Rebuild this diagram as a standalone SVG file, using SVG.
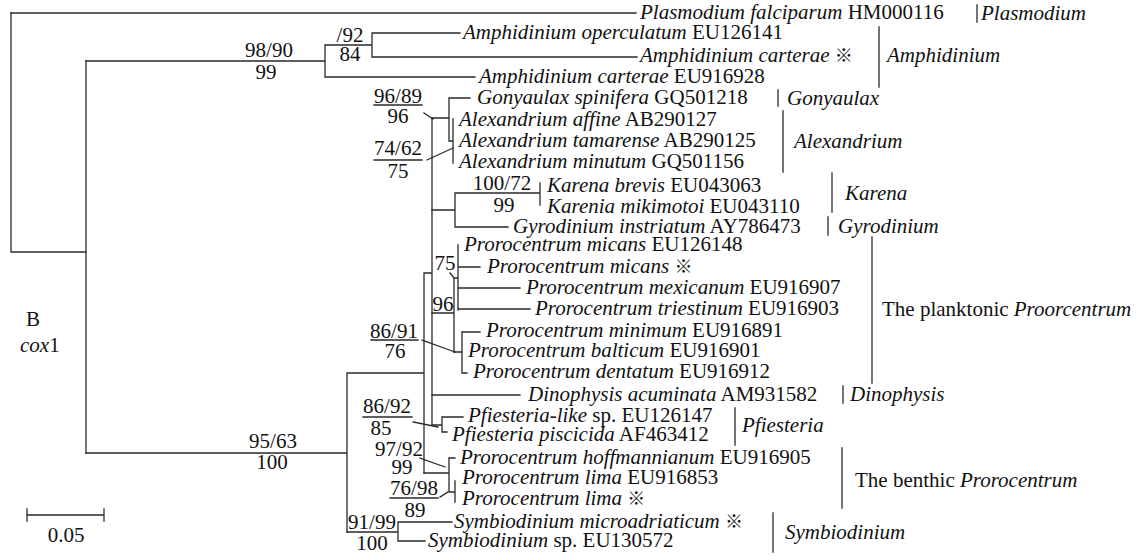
<svg xmlns="http://www.w3.org/2000/svg" width="1139" height="556" viewBox="0 0 1139 556">
<style>
.br{stroke:#2a2a2a;stroke-width:1.3;fill:none;stroke-linecap:square}
.t{font-family:"Liberation Serif","Times New Roman",serif;font-size:21px;fill:#111}
.i{font-style:italic}
.c{text-anchor:middle}
.k{font-family:"Noto Sans CJK SC",sans-serif;font-style:normal;font-size:18px}
</style>
<rect width="1139" height="556" fill="#fff"/>
<g id="connectors" class="br">
<path d="M11 13V252H86"/>
<path d="M11 13H636"/>
<path d="M86 61V453"/>
<path d="M86 61H325M325 45V77M325 45H372M372 33V57M372 33H460M372 57H637M325 77H475"/>
<path d="M86 453H347M347 373V532M347 373H424M424 273V473M424 273H432M432 118V425"/>
<path d="M432 118H449M449 98V141M449 98H470M449 141H453M453 119V163"/>
<path d="M432 210H455M455 193V227M455 193H540M540 183V205M455 227H508"/>
<path d="M432 313H454M454 278V352M454 278H458M458 245V310M458 267H480M458 288H520M458 309H530"/>
<path d="M454 352H462M462 332V373M462 332H480M462 373H467"/>
<path d="M432 395H520"/>
<path d="M432 425H442M442 417V432M442 417H463M442 432H447"/>
<path d="M424 473H449M449 458V492M449 458H455M449 492H455M455 481V502"/>
<path d="M347 532H398M398 522V541M398 522H452M398 541H425"/>
<path d="M424 113L433 119M427 160L453 148M450 273L454 278M422 340L455 352M413 422L438 427M420 458L445 467M440 497L448 492"/>
<path d="M374 105H422M374 160H422M371 340H418M363 417H412M390 498H438"/>
</g>
<g id="support" class="t c">
<text x="350" y="42">/92</text>
<text x="350" y="61">84</text>
<text x="269" y="57">98/90</text>
<text x="266" y="79">99</text>
<text x="398" y="103">96/89</text>
<text x="398" y="123">96</text>
<text x="398" y="155">74/62</text>
<text x="398" y="178">75</text>
<text x="502" y="190">100/72</text>
<text x="504" y="212">99</text>
<text x="445" y="270">75</text>
<text x="443" y="311">96</text>
<text x="394" y="338">86/91</text>
<text x="395" y="358">76</text>
<text x="387" y="413">86/92</text>
<text x="381" y="435">85</text>
<text x="399" y="456">97/92</text>
<text x="402" y="474">99</text>
<text x="414" y="495">76/98</text>
<text x="415" y="517">89</text>
<text x="372" y="529">91/99</text>
<text x="372" y="550">100</text>
<text x="273" y="448">95/63</text>
<text x="272" y="469">100</text>
</g>
<g id="n-plasmodium" class="t"><text x="640" y="19"><tspan class="i">Plasmodium falciparum</tspan> HM000116</text></g>
<g id="n-amph-oper" class="t"><text x="463" y="39"><tspan class="i">Amphidinium operculatum</tspan> EU126141</text></g>
<g id="n-amph-cart1" class="t"><text x="640" y="62"><tspan class="i">Amphidinium carterae</tspan> <tspan class="k">※</tspan></text></g>
<g id="n-amph-cart2" class="t"><text x="479" y="83"><tspan class="i">Amphidinium carterae</tspan> EU916928</text></g>
<g id="n-gonyaulax" class="t"><text x="477" y="104"><tspan class="i">Gonyaulax spinifera</tspan> GQ501218</text></g>
<g id="n-alex-aff" class="t"><text x="459" y="126"><tspan class="i">Alexandrium affine</tspan> AB290127</text></g>
<g id="n-alex-tam" class="t"><text x="459" y="147"><tspan class="i">Alexandrium tamarense</tspan> AB290125</text></g>
<g id="n-alex-min" class="t"><text x="459" y="168"><tspan class="i">Alexandrium minutum</tspan> GQ501156</text></g>
<g id="n-karena" class="t"><text x="547" y="192"><tspan class="i">Karena brevis</tspan> EU043063</text></g>
<g id="n-karenia" class="t"><text x="547" y="213"><tspan class="i">Karenia mikimotoi</tspan> EU043110</text></g>
<g id="n-gyro" class="t"><text x="513" y="233"><tspan class="i">Gyrodinium instriatum</tspan> AY786473</text></g>
<g id="n-pmic1" class="t"><text x="464" y="251"><tspan class="i">Prorocentrum micans</tspan> EU126148</text></g>
<g id="n-pmic2" class="t"><text x="487" y="273"><tspan class="i">Prorocentrum micans</tspan> <tspan class="k">※</tspan></text></g>
<g id="n-pmex" class="t"><text x="526" y="294"><tspan class="i">Prorocentrum mexicanum</tspan> EU916907</text></g>
<g id="n-ptri" class="t"><text x="535" y="315"><tspan class="i">Prorocentrum triestinum</tspan> EU916903</text></g>
<g id="n-pmin" class="t"><text x="486" y="337"><tspan class="i">Prorocentrum minimum</tspan> EU916891</text></g>
<g id="n-pbal" class="t"><text x="468" y="357"><tspan class="i">Prorocentrum balticum</tspan> EU916901</text></g>
<g id="n-pden" class="t"><text x="473" y="378"><tspan class="i">Prorocentrum dentatum</tspan> EU916912</text></g>
<g id="n-dino" class="t"><text x="528" y="401"><tspan class="i">Dinophysis acuminata</tspan> AM931582</text></g>
<g id="n-pfl" class="t"><text x="468" y="422"><tspan class="i">Pfiesteria-like</tspan> sp. EU126147</text></g>
<g id="n-pfp" class="t"><text x="452" y="441"><tspan class="i">Pfiesteria piscicida</tspan> AF463412</text></g>
<g id="n-phof" class="t"><text x="460" y="464"><tspan class="i">Prorocentrum hoffmannianum</tspan> EU916905</text></g>
<g id="n-plim1" class="t"><text x="462" y="484"><tspan class="i">Prorocentrum lima</tspan> EU916853</text></g>
<g id="n-plim2" class="t"><text x="462" y="505"><tspan class="i">Prorocentrum lima</tspan> <tspan class="k">※</tspan></text></g>
<g id="n-symm" class="t"><text x="454" y="528"><tspan class="i">Symbiodinium microadriaticum</tspan> <tspan class="k">※</tspan></text></g>
<g id="n-syms" class="t"><text x="428" y="547"><tspan class="i">Symbiodinium</tspan> sp. EU130572</text></g>
<g id="clades">
<g id="cl-plasmodium"><path class="br" d="M977 5V22"/><text class="t i" x="981" y="20">Plasmodium</text></g>
<g id="cl-amphidinium"><path class="br" d="M879 27V87"/><text class="t i" x="887" y="62">Amphidinium</text></g>
<g id="cl-gonyaulax"><path class="br" d="M778 90V106"/><text class="t i" x="787" y="105">Gonyaulax</text></g>
<g id="cl-alexandrium"><path class="br" d="M783 111V172"/><text class="t i" x="794" y="148">Alexandrium</text></g>
<g id="cl-karena"><path class="br" d="M832 173V212"/><text class="t i" x="845" y="200">Karena</text></g>
<g id="cl-gyrodinium"><path class="br" d="M828 217V235"/><text class="t i" x="838" y="233">Gyrodinium</text></g>
<g id="cl-planktonic"><path class="br" d="M872 237V383"/><text class="t" x="882" y="316">The planktonic <tspan class="i">Proorcentrum</tspan></text></g>
<g id="cl-dinophysis"><path class="br" d="M843 386V403"/><text class="t i" x="850" y="401">Dinophysis</text></g>
<g id="cl-pfiesteria"><path class="br" d="M735 408V445"/><text class="t i" x="742" y="432">Pfiesteria</text></g>
<g id="cl-benthic"><path class="br" d="M842 448V508"/><text class="t" x="855" y="487">The benthic <tspan class="i">Prorocentrum</tspan></text></g>
<g id="cl-symbiodinium"><path class="br" d="M773 513V552"/><text class="t i" x="785" y="539">Symbiodinium</text></g>
</g>
<g id="title" class="t">
<text x="26" y="326">B</text>
<text x="20" y="352"><tspan class="i">cox</tspan>1</text>
</g>
<g id="scale">
<path class="br" d="M27 515H104M27 509V521M104 509V521"/>
<text class="t c" x="66" y="542">0.05</text>
</g>
</svg>
